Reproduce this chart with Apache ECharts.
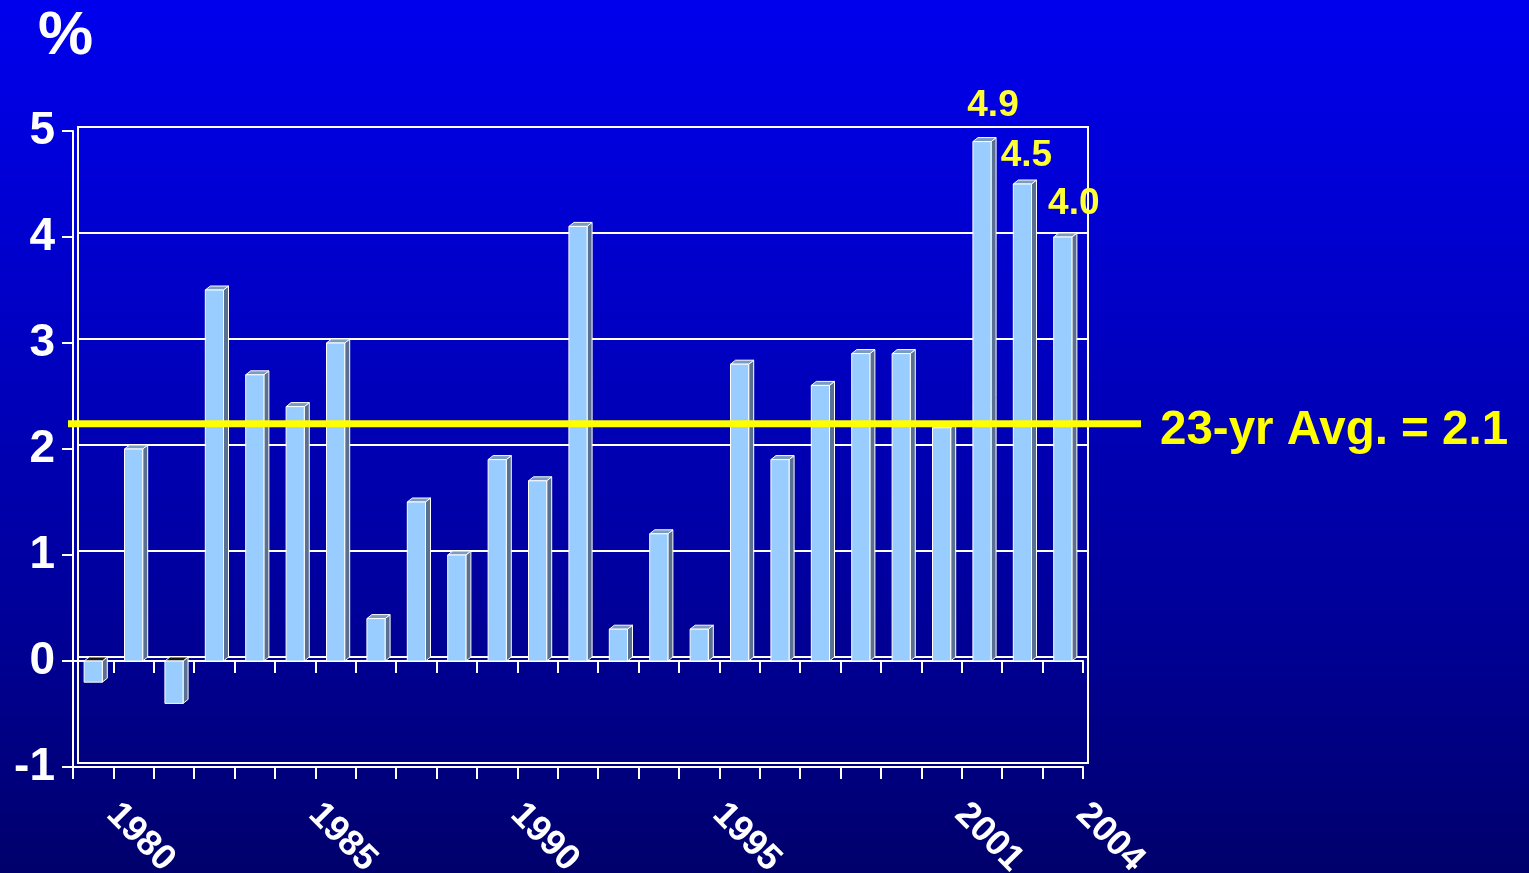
<!DOCTYPE html>
<html>
<head>
<meta charset="utf-8">
<style>
  html, body { margin: 0; padding: 0; width: 1529px; height: 873px; overflow: hidden; background: #00009a; }
  #chart { width: 1529px; height: 873px; }
</style>
<script src="https://cdn.jsdelivr.net/npm/echarts@6/dist/echarts.min.js"></script>
</head>
<body>
<div id="chart"></div>
<script>
// ---- data ----
const years = ['1980','1981','1982','1983','1984','1985','1986','1987','1988','1989',
               '1990','1991','1992','1993','1994','1995','1996','1997','1998','1999',
               '2000','2001','2002','2003','2004'];
const growth = [-0.2, 2.0, -0.4, 3.5, 2.7, 2.4, 3.0, 0.4, 1.5, 1.0,
                1.9, 1.7, 4.1, 0.3, 1.2, 0.3, 2.8, 1.9, 2.6, 2.9,
                2.9, 2.2, 4.9, 4.5, 4.0];
const tickLabels = ['1980','1985','1990','1995','2001','2004'];
const yTicks = [-1, 0, 1, 2, 3, 4, 5];
const labelledYears = ['2002','2003','2004'];
const avgLineValue = 2.2;
const avgLabel = '23-yr Avg. = 2.1';
const unitLabel = '%';

// ---- styles ----
const FONT = '"Liberation Sans", Arial, sans-serif';
const DEPTH_X = 5, DEPTH_Y = -4;
const BAR_RATIO = 0.45;
const labelOffsets = { '2002': [11, -36], '2003': [4, -28], '2004': [11, -33] };

const chart = echarts.init(document.getElementById('chart'), null, { renderer: 'canvas' });

function renderBar(params, api) {
  const cat = api.value(0);
  const v = api.value(1);
  const top = api.coord([cat, v]);
  const base = api.coord([cat, 0]);
  const bw = api.size([1, 0])[0] * BAR_RATIO;
  const x0 = top[0] - bw / 2, x1 = top[0] + bw / 2;
  const yTop = Math.min(top[1], base[1]);
  const yBot = Math.max(top[1], base[1]);
  const stroke = { stroke: '#ffffff', lineWidth: 1 };
  const children = [
    { type: 'polygon', shape: { points: [[x1, yTop], [x1 + DEPTH_X, yTop + DEPTH_Y], [x1 + DEPTH_X, yBot + DEPTH_Y], [x1, yBot]] },
      style: Object.assign({ fill: '#5a7090' }, stroke) },
    { type: 'polygon', shape: { points: [[x0, yTop], [x0 + DEPTH_X, yTop + DEPTH_Y], [x1 + DEPTH_X, yTop + DEPTH_Y], [x1, yTop]] },
      style: Object.assign({ fill: v >= 0 ? '#7a9cc0' : '#151515' }, stroke) },
    { type: 'rect', shape: { x: x0, y: yTop, width: bw, height: yBot - yTop },
      style: Object.assign({ fill: '#99ccff' }, stroke) }
  ];
  const yr = years[params.dataIndex];
  if (labelledYears.indexOf(yr) >= 0) {
    const off = labelOffsets[yr] || [0, -30];
    children.push({
      type: 'text', z2: 10,
      style: { x: top[0] + off[0], y: yTop + off[1], text: v.toFixed(1), fill: '#ffff33',
               font: 'bold 37px ' + FONT, align: 'center', verticalAlign: 'middle' }
    });
  }
  return { type: 'group', children: children };
}

const option = {
  backgroundColor: {
    type: 'linear', x: 0, y: 0, x2: 0, y2: 1,
    colorStops: [
      { offset: 0, color: '#0000ee' },
      { offset: 0.45, color: '#0000bb' },
      { offset: 0.7, color: '#00009a' },
      { offset: 1, color: '#00006c' }
    ]
  },
  animation: false,
  grid: [
    { left: 73, right: 446, top: 131, bottom: 106, show: false },
    { left: 78, right: 441, top: 127, bottom: 110, show: true, borderColor: '#ffffff', borderWidth: 2, backgroundColor: 'transparent' }
  ],
  xAxis: [
    { type: 'category', gridIndex: 0, data: years, boundaryGap: true,
      axisLine: { show: true, onZero: true, lineStyle: { color: '#ffffff', width: 2 } },
      axisTick: { show: true, interval: 0, length: 12, lineStyle: { color: '#ffffff', width: 2 } },
      axisLabel: { show: false }, splitLine: { show: false } },
    { type: 'category', gridIndex: 0, data: years, boundaryGap: true, position: 'bottom',
      axisLine: { show: true, onZero: false, lineStyle: { color: '#ffffff', width: 2 } },
      axisTick: { show: true, interval: 0, length: 12, lineStyle: { color: '#ffffff', width: 2 } },
      axisLabel: { show: false },
      splitLine: { show: false } },
    { type: 'category', gridIndex: 1, data: years, show: false }
  ],
  yAxis: [
    { type: 'value', gridIndex: 0, min: yTicks[0], max: yTicks[yTicks.length - 1], interval: 1,
      axisLine: { show: true, lineStyle: { color: '#ffffff', width: 2 } },
      axisTick: { show: true, length: 11, lineStyle: { color: '#ffffff', width: 2 } },
      axisLabel: { show: true, margin: 18, color: '#ffffff', fontSize: 46, fontWeight: 'bold', fontFamily: FONT },
      splitLine: { show: false } },
    { type: 'value', gridIndex: 1, min: yTicks[0], max: yTicks[yTicks.length - 1], interval: 1,
      axisLine: { show: false }, axisTick: { show: false }, axisLabel: { show: false },
      splitLine: { show: true, lineStyle: { color: '#ffffff', width: 2 } } }
  ],
  series: [
    { type: 'custom', xAxisIndex: 0, yAxisIndex: 0, renderItem: renderBar,
      encode: { x: 0, y: 1 }, z: 5,
      data: growth.map(function (v, i) { return [years[i], v]; }) }
  ]
};

chart.setOption(option);

const lineY = chart.convertToPixel({ yAxisIndex: 1 }, avgLineValue);
const bottomY = chart.convertToPixel({ yAxisIndex: 0 }, yTicks[0]);
const graphics = [
  { type: 'line', z: 100, shape: { x1: 68, y1: lineY, x2: 1141, y2: lineY },
    style: { stroke: '#ffff00', lineWidth: 7 } },
  { type: 'text', z: 100, x: 1160, y: lineY + 7,
    style: { text: avgLabel, fill: '#ffff00', font: 'bold 47.5px ' + FONT, align: 'left', verticalAlign: 'middle' } },
  { type: 'text', z: 100, x: 38, y: 37,
    style: { text: unitLabel, fill: '#ffffff', font: 'bold 62px ' + FONT, align: 'left', verticalAlign: 'middle' } }
];
tickLabels.forEach(function (lbl) {
  const px = chart.convertToPixel({ xAxisIndex: 1 }, lbl);
  graphics.push({
    type: 'text', z: 100, x: px + 19, y: bottomY + 42, rotation: -Math.PI / 4,
    style: { text: lbl, fill: '#ffffff', font: 'bold 36px ' + FONT, align: 'left', verticalAlign: 'middle' }
  });
});
chart.setOption({ graphic: graphics });
</script>
</body>
</html>
